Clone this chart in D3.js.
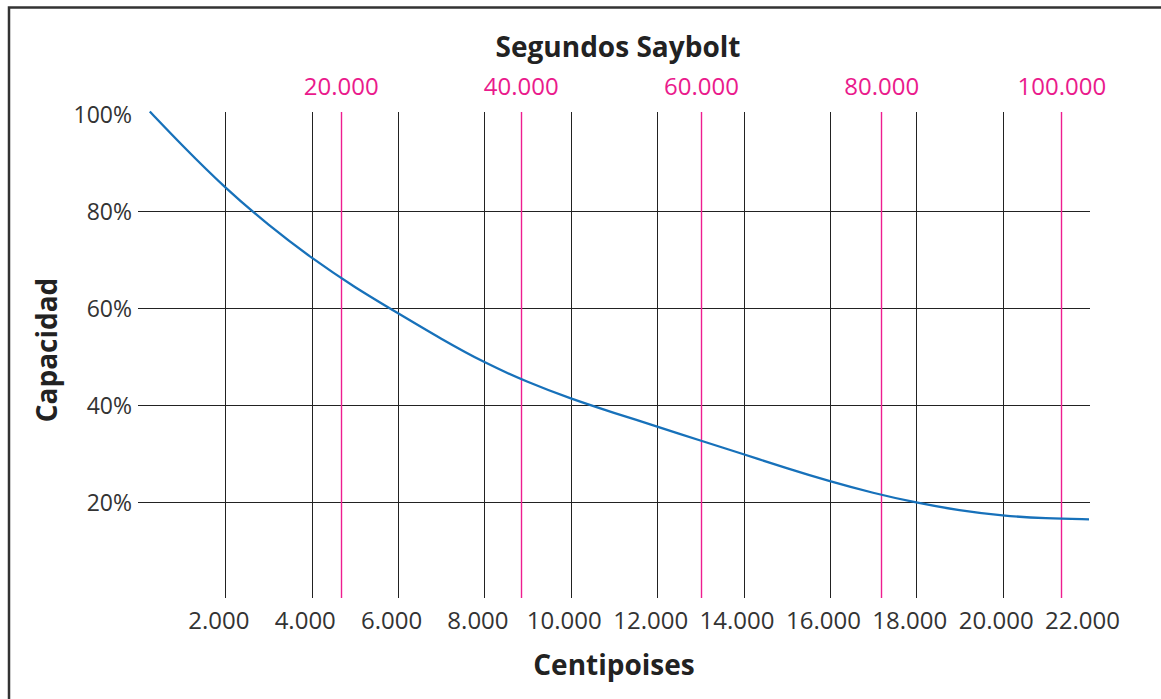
<!DOCTYPE html>
<html>
<head>
<meta charset="utf-8">
<script src="https://cdn.jsdelivr.net/npm/d3@7/dist/d3.min.js"></script>
<style>
  html, body { margin: 0; padding: 0; background: #fff; }
  svg { display: block; }
  text { font-family: "Open Sans", sans-serif; }
</style>
</head>
<body>
<svg id="chart" width="1161" height="699"></svg>
<script>
// ---- data ----
const centipoiseTicks = [2000, 4000, 6000, 8000, 10000, 12000, 14000, 16000, 18000, 20000, 22000];
const centipoiseGrid = [2000, 4000, 6000, 8000, 10000, 12000, 14000, 16000, 18000, 20000];
const sayboltTicks = [20000, 40000, 60000, 80000, 100000];
const capacityTicks = [20, 40, 60, 80, 100];
const capacityGrid = [20, 40, 60, 80];
// curve: centipoises -> capacity (%)
const curveCp  = [250, 1000, 2000, 3000, 4000, 5000, 6000, 7000, 8000, 9000, 10000, 11000, 12000, 13000, 14000, 15000, 16000, 17000, 18000, 19000, 20000, 21000, 22000];
const curveCap = [100.4, 93.4, 84.6, 77.0, 70.2, 64.2, 58.9, 53.6, 48.7, 44.7, 41.3, 38.4, 35.6, 32.7, 29.9, 27.0, 24.3, 21.9, 19.9, 18.3, 17.2, 16.7, 16.5];

const fmt = d3.formatLocale({decimal: ",", thousands: ".", grouping: [3]}).format(",");

const svg = d3.select("#chart");

// scales
const x = d3.scaleLinear().domain([0, 22000]).range([139, 1089]);
const s = d3.scaleLinear().domain([0, 100000]).range([160.5, 1061.3]);
const y = d3.scaleLinear().domain([0, 100]).range([599.5, 113.5]);

const crisp = v => Math.round(v) + 0.5;

// frame (left + top, continuing past the window)
svg.append("path")
  .attr("d", "M9,710 L9,7.5 L1170,7.5")
  .attr("fill", "none").attr("stroke", "#333").attr("stroke-width", 2.5);

// horizontal grid
svg.append("g").selectAll("line").data(capacityGrid).join("line")
  .attr("x1", x(0) - 1).attr("x2", x(22000) + 1)
  .attr("y1", d => crisp(y(d))).attr("y2", d => crisp(y(d)))
  .attr("stroke", "#222").attr("stroke-width", 1);

// vertical centipoise grid
svg.append("g").selectAll("line").data(centipoiseGrid).join("line")
  .attr("x1", d => crisp(x(d))).attr("x2", d => crisp(x(d)))
  .attr("y1", y(100) - 1.5).attr("y2", y(0) - 1.5)
  .attr("stroke", "#222").attr("stroke-width", 1);

// vertical saybolt grid (magenta)
svg.append("g").selectAll("line").data(sayboltTicks).join("line")
  .attr("x1", d => crisp(s(d))).attr("x2", d => crisp(s(d)))
  .attr("y1", y(100) - 1.5).attr("y2", y(0) - 1.5)
  .attr("stroke", "#ee1d8f").attr("stroke-width", 1.4);

// curve
const pts = curveCp.map((c, i) => [c, curveCap[i]]);
svg.append("path")
  .datum(pts)
  .attr("d", d3.line().x(d => x(d[0])).y(d => y(d[1])).curve(d3.curveBasis))
  .attr("fill", "none").attr("stroke", "#1771ba").attr("stroke-width", 2.3);

// bottom axis labels
const xAxis = d3.axisBottom(x).tickValues(centipoiseTicks).tickSize(0).tickPadding(0).tickFormat(fmt);
const gx = svg.append("g").attr("transform", "translate(0,629)").call(xAxis);
gx.select(".domain").remove();
gx.selectAll("text").attr("dy", 0).attr("dx", -7)
  .style("font-family", "'Open Sans', sans-serif").style("font-size", "24px").attr("fill", "#333");

// top axis labels (Saybolt)
const sAxis = d3.axisTop(s).tickValues(sayboltTicks).tickSize(0).tickPadding(0).tickFormat(fmt);
const gs = svg.append("g").attr("transform", "translate(0,95)").call(sAxis);
gs.select(".domain").remove();
gs.selectAll("text").attr("dy", 0)
  .style("font-family", "'Open Sans', sans-serif").style("font-size", "24px").attr("fill", "#ea1a8c");

// left axis labels
const yAxis = d3.axisLeft(y).tickValues(capacityTicks).tickSize(0).tickPadding(0).tickFormat(d => d + "%");
const gy = svg.append("g").attr("transform", "translate(132,0)").call(yAxis);
gy.select(".domain").remove();
gy.selectAll("text").attr("dy", "0.37em")
  .style("font-family", "'Open Sans', sans-serif").style("font-size", "23px").attr("fill", "#333");

// titles
svg.append("text").attr("x", 618).attr("y", 57).attr("text-anchor", "middle")
  .style("font-size", "28px").style("font-weight", 700).attr("fill", "#222").text("Segundos Saybolt");
svg.append("text").attr("x", 614).attr("y", 675).attr("text-anchor", "middle")
  .style("font-size", "28px").style("font-weight", 700).attr("fill", "#222").text("Centipoises");
svg.append("text").attr("transform", "translate(57,350) rotate(-90)").attr("text-anchor", "middle")
  .style("font-size", "28px").style("font-weight", 700).attr("fill", "#222").text("Capacidad");
</script>
</body>
</html>
